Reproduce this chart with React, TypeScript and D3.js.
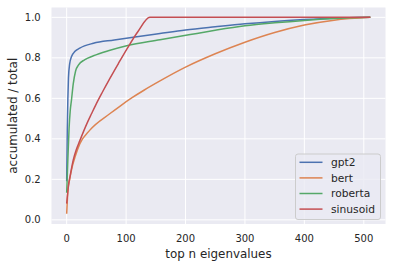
import React from 'react';
import * as d3 from 'd3';

// values (x = top n eigenvalues, y = accumulated / total)
const gpt2: [number, number][] = [
  [0, 0.19], [1, 0.45], [2, 0.6], [3, 0.7], [5, 0.77], [8, 0.805], [14, 0.832], [22, 0.848],
  [45, 0.872], [80, 0.888], [115, 0.903], [157, 0.92], [200, 0.937], [250, 0.953],
  [300, 0.968], [350, 0.98], [400, 0.989], [450, 0.996], [511, 1.0],
];
const bert: [number, number][] = [
  [0, 0.03], [2, 0.14], [5, 0.2], [10, 0.27], [14, 0.31], [22, 0.375], [39, 0.443],
  [73, 0.525], [90, 0.562], [110, 0.603], [130, 0.64], [157, 0.686], [200, 0.754],
  [250, 0.82], [300, 0.877], [350, 0.925], [400, 0.962], [450, 0.986], [511, 1.0],
];
const roberta: [number, number][] = [
  [0, 0.134], [2, 0.3], [4, 0.45], [6, 0.54], [8, 0.59], [11, 0.67], [15, 0.735], [20, 0.765],
  [30, 0.79], [45, 0.81], [70, 0.835], [101, 0.86], [157, 0.889], [208, 0.915], [250, 0.936],
  [300, 0.958], [350, 0.973], [400, 0.985], [450, 0.994], [511, 1.0],
];
const sinusoid: [number, number][] = [
  [0, 0.08], [3, 0.17], [6, 0.22], [11, 0.295], [16, 0.345], [22, 0.39], [34, 0.475], [42, 0.525],
  [49, 0.568], [60, 0.63], [73, 0.7], [87, 0.772], [101, 0.842], [120, 0.93], [140, 1.0], [511, 1.0],
];

const seriesNames = ['gpt2', 'bert', 'roberta', 'sinusoid'];
const seriesData = [gpt2, bert, roberta, sinusoid];
const colors = ['#4C72B0', '#DD8452', '#55A868', '#C44E52'];
const xTicks = [0, 100, 200, 300, 400, 500];
const yTicks = [0.0, 0.2, 0.4, 0.6, 0.8, 1.0];

const W = 393;
const H = 268;
const plot = { left: 51.5, right: 385.5, top: 7.5, bottom: 224 };
const textColor = '#262626';
const font = 'DejaVu Sans, sans-serif';

const App: React.FC = () => {
  const x = d3.scaleLinear().domain([-25.55, 536.55]).range([plot.left, plot.right]);
  const y = d3.scaleLinear().domain([-0.0206, 1.0486]).range([plot.bottom, plot.top]);

  const line = d3.line<[number, number]>()
    .x(d => x(d[0]))
    .y(d => y(d[1]))
    .curve(d3.curveMonotoneX);

  const legend = { x: 295.5, y: 154, w: 85, h: 65.5 };

  return (
    <div style={{ position: 'fixed', left: 0, top: 0 }}>
      <svg width={W} height={H} style={{ display: 'block', background: '#fff' }} fontFamily={font}>
        <rect x={plot.left} y={plot.top} width={plot.right - plot.left} height={plot.bottom - plot.top} fill="#EAEAF2" />

        {/* grid */}
        {xTicks.map(t => (
          <line key={'gx' + t} x1={x(t)} x2={x(t)} y1={plot.top} y2={plot.bottom} stroke="#fff" strokeWidth={1} />
        ))}
        {yTicks.map(t => (
          <line key={'gy' + t} x1={plot.left} x2={plot.right} y1={y(t)} y2={y(t)} stroke="#fff" strokeWidth={1} />
        ))}

        {/* lines */}
        {seriesData.map((d, i) => (
          <path key={seriesNames[i]} d={line(d) || ''} fill="none" stroke={colors[i]} strokeWidth={1.5} strokeLinejoin="round" />
        ))}

        {/* tick labels */}
        {xTicks.map(t => (
          <text key={'tx' + t} x={x(t)} y={242} textAnchor="middle" fontSize={10} fill={textColor}>{t}</text>
        ))}
        {yTicks.map(t => (
          <text key={'ty' + t} x={40.7} y={y(t)} dy="0.35em" textAnchor="end" fontSize={10} fill={textColor}>{t.toFixed(1)}</text>
        ))}

        {/* axis labels */}
        <text x={(plot.left + plot.right) / 2} y={257.5} textAnchor="middle" fontSize={11.9} fill={textColor}>top n eigenvalues</text>
        <text transform={`translate(16.5,${(plot.top + plot.bottom) / 2}) rotate(-90)`} textAnchor="middle" fontSize={11.9} fill={textColor}>accumulated / total</text>

        {/* legend */}
        <rect x={legend.x} y={legend.y} width={legend.w} height={legend.h} rx={2.5} fill="#EAEAF2" fillOpacity={0.8} stroke="#CCCCCC" strokeWidth={1} />
        {seriesNames.map((n, i) => {
          const ly = 162.3 + i * 15.6;
          return (
            <g key={'lg' + n}>
              <line x1={299.5} x2={322.5} y1={ly} y2={ly} stroke={colors[i]} strokeWidth={1.5} />
              <text x={331} y={ly} dy="0.35em" fontSize={10.7} fill={textColor}>{n}</text>
            </g>
          );
        })}
      </svg>
    </div>
  );
};

export default App;
